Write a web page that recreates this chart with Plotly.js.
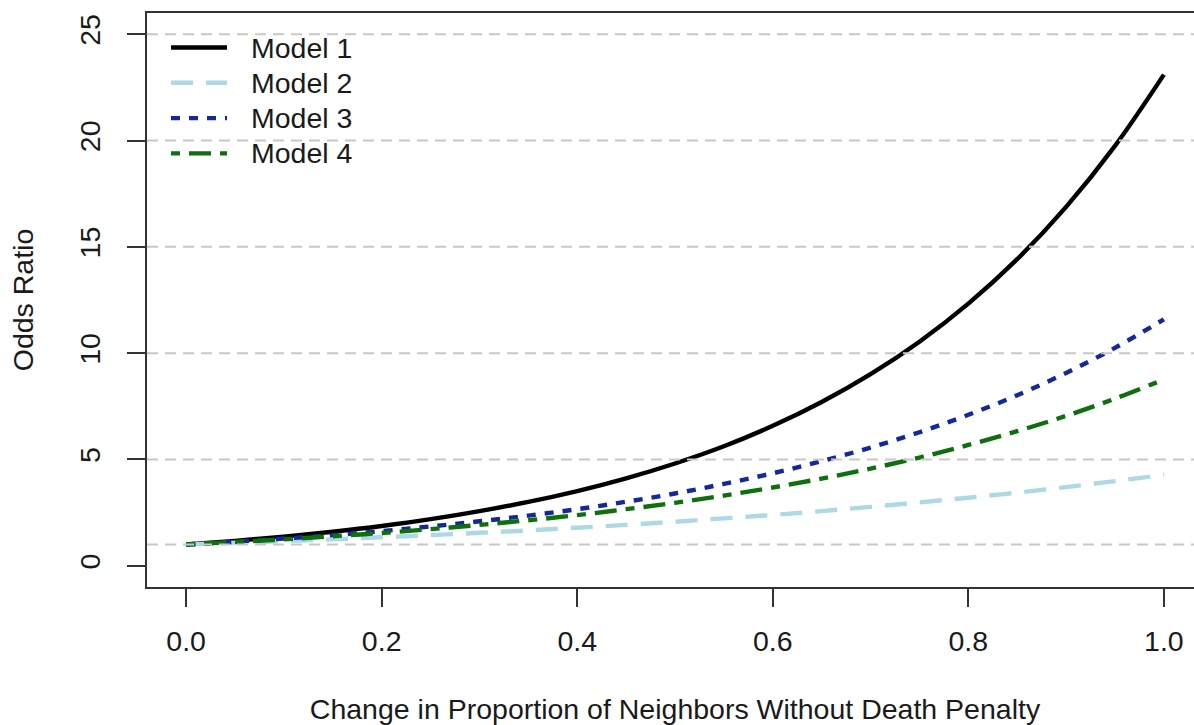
<!DOCTYPE html>
<html>
<head>
<meta charset="utf-8">
<script src="https://cdn.plot.ly/plotly-3.0.1.min.js"></script>
<style>
  html, body { margin: 0; padding: 0; overflow: hidden; background: #ffffff; }
  #chart { width: 1210px; height: 725px; }
</style>
</head>
<body>
<div id="chart"></div>
<script>
// Change in proportion of neighbors without death penalty
const xVals = [0.00, 0.05, 0.10, 0.15, 0.20, 0.25, 0.30, 0.35, 0.40, 0.45, 0.50,
               0.55, 0.60, 0.65, 0.70, 0.75, 0.80, 0.85, 0.90, 0.95, 1.00];

// Odds ratios
const model1 = [1.00, 1.17, 1.37, 1.60, 1.87, 2.19, 2.57, 3.00, 3.51, 4.11, 4.81,
                5.62, 6.58, 7.70, 9.01, 10.54, 12.33, 14.42, 16.88, 19.75, 23.10];
const model2 = [1.00, 1.08, 1.16, 1.24, 1.34, 1.44, 1.55, 1.66, 1.79, 1.92, 2.07,
                2.23, 2.39, 2.57, 2.77, 2.98, 3.20, 3.44, 3.70, 3.98, 4.28];
const model3 = [1.00, 1.13, 1.28, 1.44, 1.63, 1.85, 2.09, 2.36, 2.66, 3.01, 3.40,
                3.85, 4.35, 4.92, 5.56, 6.28, 7.10, 8.02, 9.07, 10.25, 11.59];
const model4 = [1.00, 1.12, 1.24, 1.39, 1.54, 1.72, 1.92, 2.14, 2.38, 2.66, 2.96,
                3.30, 3.68, 4.10, 4.57, 5.09, 5.68, 6.33, 7.05, 7.86, 8.76];

const seriesNames = ["Model 1", "Model 2", "Model 3", "Model 4"];
const xTickVals = [0, 0.2, 0.4, 0.6, 0.8, 1.0];
const xTickText = ["0.0", "0.2", "0.4", "0.6", "0.8", "1.0"];
const yTickVals = [0, 5, 10, 15, 20, 25];
const gridVals = [1, 5, 10, 15, 20, 25];

const FONT = "Liberation Sans, Arial, Helvetica, sans-serif";
const FS = 28.5;
const TXT = "#1a1a1a";
const AX = "#333333";

const styles = [
  {color: "#000000", dash: "solid"},
  {color: "#add8e6", dash: "22px,13px"},
  {color: "#14289e", dash: "9px,9px"},
  {color: "#0d700d", dash: "9px,9px,22px,9px"}
];
const seriesData = [model1, model2, model3, model4];

const traces = seriesData.map((ys, i) => ({
  type: "scatter",
  mode: "lines",
  name: seriesNames[i],
  x: xVals,
  y: ys,
  line: {color: styles[i].color, width: 4.4, dash: styles[i].dash, shape: "spline", smoothing: 1},
  hoverinfo: "x+y+name",
  showlegend: false
}));

// plot-area geometry (px) used to place the legend box
const M = {l: 147, r: 7, t: 13, b: 138};
const W = 1210, H = 725;
const PW = W - M.l - M.r, PH = H - M.t - M.b;
const px2x = p => (p - M.l) / PW;
const px2y = p => 1 - (p - M.t) / PH;

const shapes = gridVals.map(v => ({
  type: "line", xref: "paper", yref: "y",
  x0: 0, x1: 1, y0: v, y1: v,
  layer: "above",
  line: {color: "#c8c8c8", width: 2, dash: "11px,7px"}
}));

const annotations = [];
const legendTop = 47.5, legendStep = 35.3;
seriesNames.forEach((name, i) => {
  const yc = px2y(legendTop + i * legendStep);
  shapes.push({
    type: "line", xref: "paper", yref: "paper",
    x0: px2x(171), x1: px2x(227), y0: yc, y1: yc,
    layer: "above",
    line: {color: styles[i].color, width: 4.4, dash: styles[i].dash}
  });
  annotations.push({
    xref: "paper", yref: "paper", x: px2x(249), y: yc,
    xanchor: "left", yanchor: "middle", showarrow: false,
    text: name, font: {family: FONT, size: FS, color: TXT}
  });
});

const layout = {
  width: W,
  height: H,
  margin: {l: M.l, r: M.r, t: M.t, b: M.b, pad: 0},
  paper_bgcolor: "#ffffff",
  plot_bgcolor: "#ffffff",
  font: {family: FONT, size: FS, color: TXT},
  showlegend: false,
  xaxis: {
    range: [-0.04, 1.04],
    tickmode: "array",
    tickvals: xTickVals,
    ticktext: xTickText,
    ticks: "outside",
    ticklen: 18,
    tickwidth: 2,
    tickcolor: AX,
    ticklabelstandoff: 10,
    tickfont: {family: FONT, size: FS, color: TXT},
    showgrid: false,
    zeroline: false,
    showline: true,
    linecolor: AX,
    linewidth: 2,
    mirror: true,
    title: {text: "Change in Proportion of Neighbors Without Death Penalty",
            font: {family: FONT, size: FS, color: TXT}, standoff: 44}
  },
  yaxis: {
    range: [-1, 26],
    tickmode: "array",
    tickvals: yTickVals,
    ticks: "outside",
    ticklen: 18,
    tickwidth: 2,
    tickcolor: AX,
    tickangle: -90,
    ticklabelstandoff: 16,
    tickfont: {family: FONT, size: FS, color: TXT},
    showgrid: false,
    zeroline: false,
    showline: true,
    linecolor: AX,
    linewidth: 2,
    mirror: true,
    title: {text: "Odds Ratio", font: {family: FONT, size: FS, color: TXT}, standoff: 32}
  },
  shapes: shapes,
  annotations: annotations
};

Plotly.newPlot("chart", traces, layout, {displayModeBar: false});
</script>
</body>
</html>
